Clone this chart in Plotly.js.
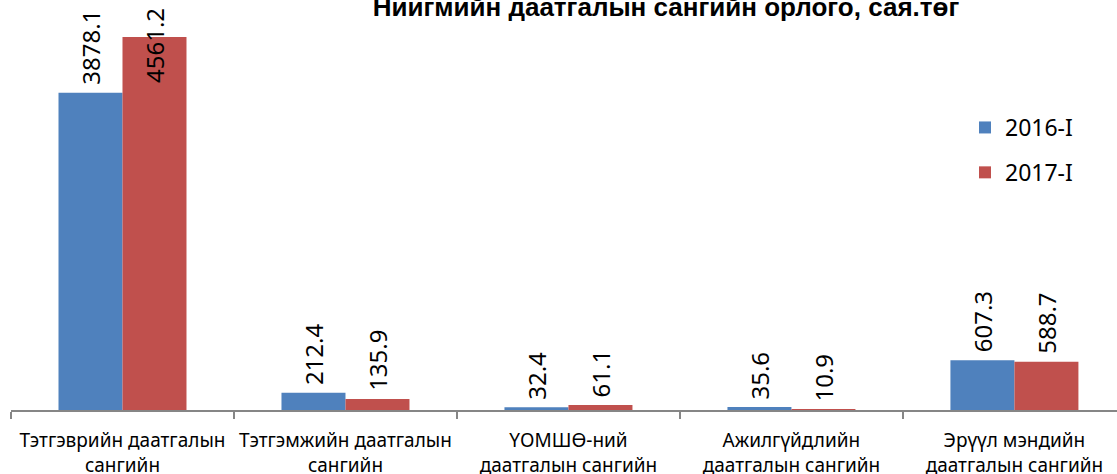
<!DOCTYPE html>
<html>
<head>
<meta charset="utf-8">
<script src="https://cdn.plot.ly/plotly-3.0.1.min.js"></script>
<style>html,body{margin:0;padding:0;background:#fff;}#chart{width:1117px;height:474px;}</style>
</head>
<body>
<div id="chart"></div>
<script>
const categories = [
  "Тэтгэврийн даатгалын<br>сангийн",
  "Тэтгэмжийн даатгалын<br>сангийн",
  "ҮОМШӨ-ний<br>даатгалын сангийн",
  "Ажилгүйдлийн<br>даатгалын сангийн",
  "Эрүүл мэндийн<br>даатгалын сангийн"
];
const series2016 = [3878.1, 212.4, 32.4, 35.6, 607.3];
const series2017 = [4561.2, 135.9, 61.1, 10.9, 588.7];
const seriesNames = ["2016-I", "2017-I"];
const chartTitle = "Ниигмийн даатгалын сангийн орлого, сая.төг";

const FONT = "Noto Sans, Open Sans, sans-serif";
const colors = ["#4F81BD", "#C0504D"];
const idx = categories.map((_, i) => i);

const traces = [series2016, series2017].map((vals, s) => ({
  type: "bar",
  name: seriesNames[s],
  x: idx,
  y: vals,
  marker: {color: colors[s], line: {width: 0}},
  legendgroup: "g" + s,
  hoverinfo: "skip"
}));

// data labels (rotated), kept inside the top of the plot like the original
const LABEL_CAP = 3900;
const annotations = [];
[series2016, series2017].forEach((vals, s) => {
  vals.forEach((v, i) => {
    annotations.push({
      x: i, y: Math.min(v, LABEL_CAP), xref: "x", yref: "y",
      text: v.toFixed(1), showarrow: false, textangle: -90,
      xanchor: "center", yanchor: "bottom",
      xshift: s === 0 ? -32 : 32, yshift: 6,
      font: {family: FONT, size: 24, color: "#000"}
    });
  });
});

const layout = {
  width: 1117, height: 474,
  margin: {l: 11, r: 0, t: 1, b: 64, autoexpand: false},
  paper_bgcolor: "#fff", plot_bgcolor: "#fff",
  title: {
    text: "<b>" + chartTitle + "</b>",
    font: {family: "Liberation Sans, Arial, sans-serif", size: 26, color: "#000"},
    x: 666 / 1117, xanchor: "center", xref: "container",
    y: 1 - 7 / 474, yanchor: "middle", yref: "container",
    automargin: false
  },
  barmode: "group", bargap: 0.426, bargroupgap: 0,
  showlegend: true,
  legend: {
    x: (965 - 11) / 1106, xref: "paper", xanchor: "left",
    y: (410 - 106) / 409, yref: "paper", yanchor: "top",
    font: {family: FONT, size: 23, color: "#000"},
    traceorder: "grouped", tracegroupgap: 12,
    bgcolor: "rgba(0,0,0,0)"
  },
  xaxis: {
    type: "category",
    tickmode: "array", tickvals: idx, ticktext: categories,
    range: [-0.5, 4.46],
    tickson: "boundaries",
    ticks: "outside", ticklen: 7, tickwidth: 1.5, tickcolor: "#868686",
    showline: true, linecolor: "#868686", linewidth: 2,
    showgrid: false, zeroline: false,
    tickangle: 0, automargin: false,
    ticklabelstandoff: 12,
    tickfont: {family: FONT, size: 19, color: "#000"},
    fixedrange: true
  },
  yaxis: {
    range: [0, 5000], visible: false, showgrid: false, zeroline: false, fixedrange: true
  },
  annotations: annotations
};

Plotly.newPlot("chart", traces, layout, {displayModeBar: false, staticPlot: true});
</script>
</body>
</html>
